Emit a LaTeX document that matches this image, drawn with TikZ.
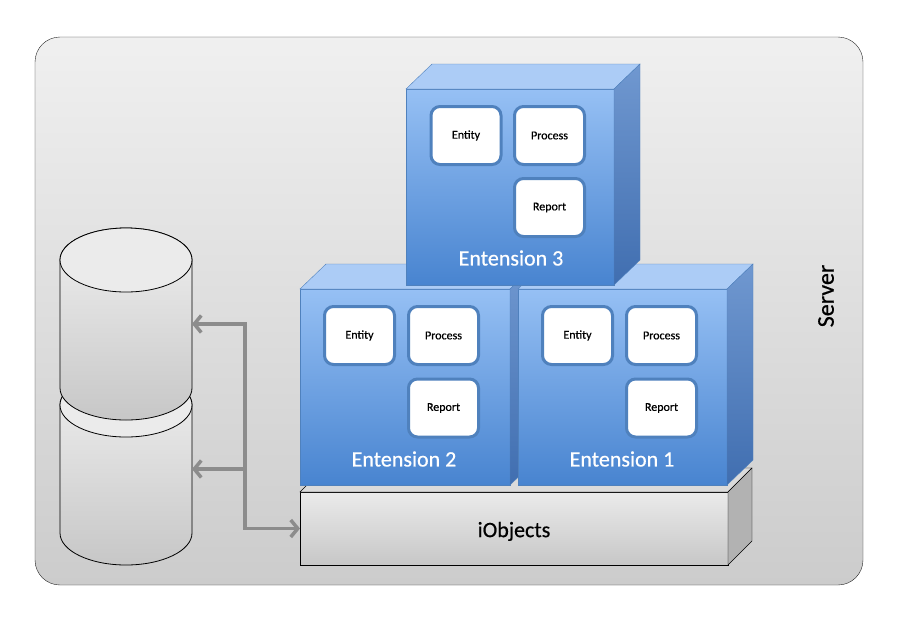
\documentclass[tikz,border=0pt]{standalone}
\usepackage{fontspec}
\setmainfont{Carlito}[FakeBold=0.5]
\newfontfamily\gras{Carlito}[FakeBold=0.5]
\usetikzlibrary{arrows.meta}
\definecolor{bleuhaut}{RGB}{150,192,244}
\definecolor{bleubas}{RGB}{72,132,208}
\definecolor{bleudessus}{RGB}{172,204,246}
\definecolor{cotehaut}{RGB}{112,152,208}
\definecolor{cotebas}{RGB}{64,110,176}
\definecolor{bleutrait}{RGB}{79,129,189}
\tikzstyle{serveur}=[
        draw=black!85,
        rounded corners=25pt,
        top color=black!6,
        bottom color=black!20,
        minimum width=828pt,
        minimum height=548pt
]
\tikzstyle{face}=[draw=bleutrait,top color=bleuhaut,bottom color=bleubas,
minimum height=196pt,outer sep=0pt]
\tikzstyle{dessus}=[draw=bleutrait,fill=bleudessus]
\tikzstyle{cote}=[draw=bleutrait,top color=cotehaut,bottom color=cotebas]
\tikzstyle{module}=[rectangle,draw=bleutrait,line width=3pt,rounded corners=9pt,
fill=white,minimum width=70pt,minimum height=58pt,font=\gras\fontsize{12}{14}\selectfont]
\tikzstyle{titre}=[text=white,font=\gras\fontsize{22}{26}\selectfont]
\tikzstyle{socle}=[draw=black,top color=black!8,bottom color=black!22,text height=21pt,
minimum width=428pt,minimum height=73pt,outer sep=0pt,font=\gras\fontsize{22}{26}\selectfont]
\tikzstyle{base}=[minimum width=132pt,minimum height=128pt,inner sep=0pt,outer sep=0pt]
\tikzstyle{cyl}=[draw=black,thick,top color=black!6,bottom color=black!22]
\tikzstyle{lien}=[{Straight Barb[length=7pt,width=17pt]}-{Straight Barb[length=7pt,width=17pt]},
line width=3.5pt,draw=black!45]

\begin{document}
\begin{tikzpicture}[x=1pt,y=-1pt]
\useasboundingbox (0,0) rectangle (901,622);
\node[serveur] (srv) at (449,311) {};
\node[rotate=90,font=\gras\fontsize{24}{28}\selectfont] (nom) at (826,296) {Server};
% bases
\node[base] (db2) at (126,469) {};
\draw[cyl] (db2.north west) -- (db2.south west)
  arc[start angle=180,end angle=360,x radius=66pt,y radius=32pt] -- (db2.north east)
  arc[start angle=0,end angle=180,x radius=66pt,y radius=32pt] -- cycle;
\draw[thick,fill=black!8] (db2.north) ellipse[x radius=66pt,y radius=32pt];
\node[base] (db1) at (126,324) {};
\draw[cyl] (db1.north west) -- (db1.south west)
  arc[start angle=180,end angle=360,x radius=66pt,y radius=32pt] -- (db1.north east)
  arc[start angle=0,end angle=180,x radius=66pt,y radius=32pt] -- cycle;
\draw[thick,fill=black!8] (db1.north) ellipse[x radius=66pt,y radius=32pt];
% socle
\node[socle] (io) at (514,528.5) {iObjects};
\draw[draw=black,fill=black!14] (io.north west) -- ++(24,-24) -- ++(428,0) -- (io.north east) -- cycle;
\draw[draw=black,fill=black!30] (io.north east) -- ++(24,-24) -- ++(0,73) -- (io.south east) -- cycle;
% extension 2
\node[face,minimum width=210pt] (e2) at (405,387) {};
\draw[dessus] (e2.north west) -- ++(26,-25) -- ++(210,0) -- (e2.north east) -- cycle;
\draw[cote] (e2.north east) -- ++(26,-25) -- ++(0,196) -- (e2.south east) -- cycle;
\node[module] (ent2) at (359.5,335.5) {Entity};
\node[module] (pro2) at (443.5,335.5) {Process};
\node[module] (rep2) at (443.5,408) {Report};
\node[titre] (t2) at (404,459) {Entension 2};
% extension 1
\node[face,minimum width=209pt] (e1) at (622.5,387) {};
\draw[dessus] (e1.north west) -- ++(26,-25) -- ++(209,0) -- (e1.north east) -- cycle;
\draw[cote] (e1.north east) -- ++(26,-25) -- ++(0,196) -- (e1.south east) -- cycle;
\node[module] (ent1) at (577.5,335.5) {Entity};
\node[module] (pro1) at (661.5,335.5) {Process};
\node[module] (rep1) at (661.5,408) {Report};
\node[titre] (t1) at (622,459) {Entension 1};
% extension 3
\node[face,minimum width=208pt] (e3) at (510,187) {};
\draw[dessus] (e3.north west) -- ++(26,-25) -- ++(208,0) -- (e3.north east) -- cycle;
\draw[cote] (e3.north east) -- ++(26,-25) -- ++(0,196) -- (e3.south east) -- cycle;
\node[module] (ent3) at (466,135.5) {Entity};
\node[module] (pro3) at (549.5,135.5) {Process};
\node[module] (rep3) at (549.5,207.5) {Report};
\node[titre] (t3) at (511,258) {Entension 3};
% fleches
\coordinate (bus) at (245,400);
\draw[lien] (db1.east) -| (bus |- io.west) -- (io.west);
\draw[lien,-{Straight Barb[length=7pt,width=17pt]}] (bus |- db2.east) -- (db2.east);
\end{tikzpicture}
\end{document}
